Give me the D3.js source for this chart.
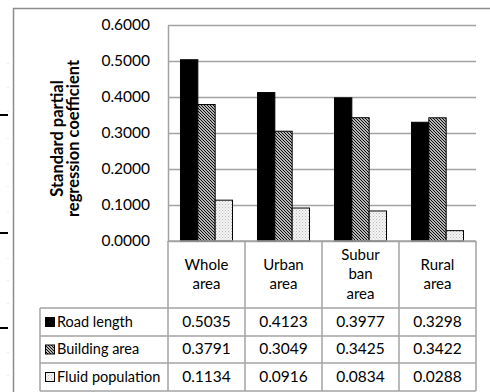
<!DOCTYPE html>
<html>
<head>
<meta charset="utf-8">
<script src="https://cdn.jsdelivr.net/npm/d3@7"></script>
<style>
  html, body { margin: 0; padding: 0; background: #fff; }
  svg { display: block; font-family: Lato, "Open Sans", sans-serif; }
</style>
</head>
<body>
<svg id="chart" width="490" height="392"></svg>
<script>
// Regression data: one value per area for each factor
const categories = ["Whole area", "Urban area", "Suburban area", "Rural area"];
const categoryLines = [["Whole", "area"], ["Urban", "area"], ["Subur", "ban", "area"], ["Rural", "area"]];
const seriesNames = ["Road length", "Building area", "Fluid population"];
const roadLength = [0.5035, 0.4123, 0.3977, 0.3298];
const buildingArea = [0.3791, 0.3049, 0.3425, 0.3422];
const fluidPopulation = [0.1134, 0.0916, 0.0834, 0.0288];
const yTicks = [0, 0.1, 0.2, 0.3, 0.4, 0.5, 0.6];
const yTitle = ["Standard partial", "regression coefficient"];

const series = [roadLength, buildingArea, fluidPopulation];
const fills = ["#000", "url(#hatch)", "url(#dots)"];

const svg = d3.select("#chart");
const W = 490, H = 392;
const plot = { left: 168, right: 476, top: 25, bottom: 241 };
const rowY = [241, 308, 336, 363, 391];   // table row boundaries
const legendLeft = 40;
const gridColor = "#a3a3a3";
const fsText = 14.5;   // words
const fsNum = 15.5;    // numbers

// fill patterns
const defs = svg.append("defs");
const hatch = defs.append("pattern").attr("id", "hatch")
  .attr("patternUnits", "userSpaceOnUse").attr("width", 3).attr("height", 3);
hatch.append("rect").attr("width", 3).attr("height", 3).attr("fill", "#fff");
hatch.append("path").attr("d", "M0,0L3,3M-1,2L1,4M2,-1L4,1")
  .attr("stroke", "#000").attr("stroke-width", 1.1);
const dots = defs.append("pattern").attr("id", "dots")
  .attr("patternUnits", "userSpaceOnUse").attr("width", 3).attr("height", 3);
dots.append("rect").attr("width", 3).attr("height", 3).attr("fill", "#f4f4f4");
dots.append("rect").attr("x", 0).attr("y", 0).attr("width", 1).attr("height", 1).attr("fill", "#b8b8b8");
dots.append("rect").attr("x", 1.5).attr("y", 1.5).attr("width", 1).attr("height", 1).attr("fill", "#c8c8c8");

// page marks along the left margin
[115, 233, 328].forEach(y => {
  svg.append("line").attr("x1", 0).attr("x2", 8).attr("y1", y).attr("y2", y)
    .attr("stroke", "#000").attr("stroke-width", 2);
});
[63, 87, 111, 138, 163, 186, 212, 258, 280, 303, 352, 375].forEach(y => {
  svg.append("rect").attr("x", 7.5).attr("y", y).attr("width", 1).attr("height", 1).attr("fill", "#d8d8d8");
});

// chart frame
svg.append("rect").attr("x", 13.5).attr("y", 8.5).attr("width", W).attr("height", H)
  .attr("fill", "none").attr("stroke", "#8c8c8c").attr("stroke-width", 1.5);

const y = d3.scaleLinear().domain([0, 0.6]).range([plot.bottom, plot.top]);
const x0 = d3.scaleBand().domain(categories).range([plot.left, plot.right]);
const x1 = d3.scaleBand().domain(seriesNames).range([0, x0.bandwidth()]).paddingOuter(0.72).paddingInner(0);

// gridlines
svg.append("g").selectAll("line").data(yTicks).join("line")
  .attr("x1", plot.left).attr("x2", plot.right)
  .attr("y1", d => Math.round(y(d)) + 0.5).attr("y2", d => Math.round(y(d)) + 0.5)
  .attr("stroke", gridColor).attr("stroke-width", 1.5);

// y axis
const yAxis = svg.append("g").attr("transform", `translate(${plot.left},0)`)
  .call(d3.axisLeft(y).tickValues(yTicks).tickFormat(d3.format(".4f")).tickSize(0).tickPadding(18));
yAxis.select(".domain").attr("stroke", gridColor).attr("stroke-width", 1.5);
yAxis.selectAll("text").attr("font-size", fsNum).attr("fill", "#000")
  .attr("font-family", "Lato, sans-serif");

// axis title
const title = svg.append("text").attr("transform", "translate(63,138.5) rotate(-90)")
  .attr("text-anchor", "middle").attr("font-weight", "bold").attr("font-size", 16.5);
yTitle.forEach((t, i) => title.append("tspan").attr("x", 0).attr("dy", i === 0 ? 0 : 16).text(t));

// bars
const groups = svg.append("g").selectAll("g").data(categories).join("g")
  .attr("transform", d => `translate(${x0(d)},0)`);
groups.selectAll("rect").data((d, i) => series.map((s, k) => ({ k, v: s[i] }))).join("rect")
  .attr("x", d => x1(seriesNames[d.k]))
  .attr("width", x1.bandwidth())
  .attr("y", d => y(d.v))
  .attr("height", d => y(0) - y(d.v))
  .attr("fill", d => fills[d.k])
  .attr("stroke", "#000").attr("stroke-width", 1);

// data table
const table = svg.append("g").attr("stroke", gridColor).attr("stroke-width", 1.5);
const colEdges = categories.map(c => x0(c)).concat([plot.right]);
colEdges.forEach(cx => {
  table.append("line").attr("x1", cx).attr("x2", cx).attr("y1", rowY[0]).attr("y2", rowY[4]);
});
table.append("line").attr("x1", legendLeft).attr("x2", legendLeft).attr("y1", rowY[1]).attr("y2", rowY[4]);
rowY.forEach((ry, i) => {
  table.append("line").attr("x1", i === 0 ? plot.left : legendLeft).attr("x2", plot.right)
    .attr("y1", ry).attr("y2", ry);
});

// category labels
categories.forEach((c, i) => {
  const lines = categoryLines[i];
  const cy = (rowY[0] + rowY[1]) / 2 + 1;
  const lh = 19.5;
  const t = svg.append("text").attr("text-anchor", "middle").attr("font-size", fsText + 0.5)
    .attr("x", x0(c) + x0.bandwidth() / 2);
  lines.forEach((l, j) => {
    t.append("tspan").attr("x", x0(c) + x0.bandwidth() / 2)
      .attr("y", cy + (j - (lines.length - 1) / 2) * lh)
      .attr("dominant-baseline", "middle").text(l);
  });
});

// value rows with legend keys
series.forEach((s, k) => {
  const cy = (rowY[k + 1] + rowY[k + 2]) / 2;
  svg.append("rect").attr("x", 45.5).attr("y", cy - 4.5).attr("width", 9).attr("height", 9)
    .attr("fill", fills[k]).attr("stroke", "#000").attr("stroke-width", 1);
  svg.append("text").attr("x", 57).attr("y", cy + 1).attr("dominant-baseline", "middle")
    .attr("font-size", fsText).text(seriesNames[k]);
  s.forEach((v, i) => {
    svg.append("text").attr("x", x0(categories[i]) + x0.bandwidth() / 2).attr("y", cy + 1)
      .attr("text-anchor", "middle").attr("dominant-baseline", "middle")
      .attr("font-size", fsNum).text(d3.format(".4f")(v));
  });
});
</script>
</body>
</html>
